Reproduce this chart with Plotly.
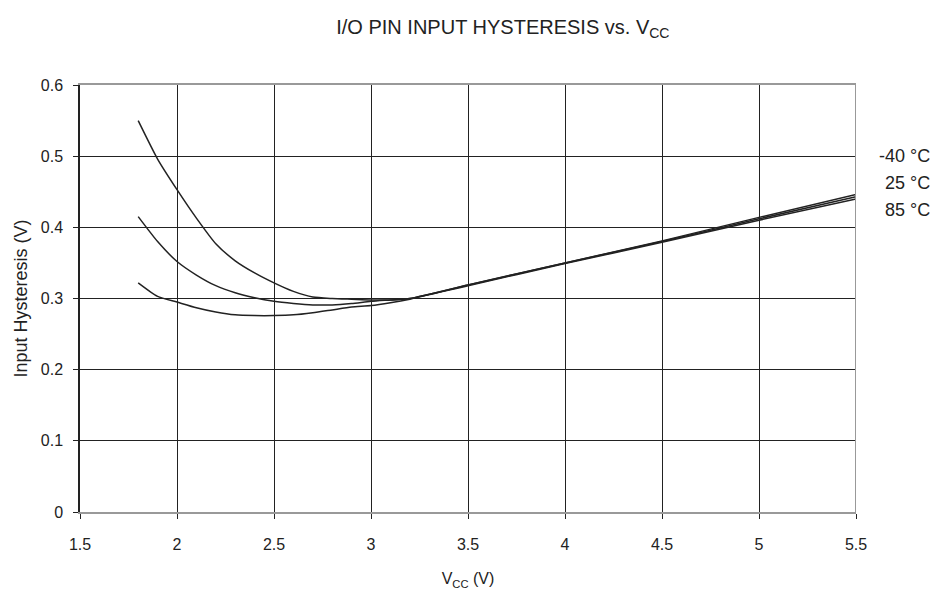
import plotly.graph_objects as go

# Supply voltage (V)
vcc = [1.8, 1.9, 2.0, 2.1, 2.2, 2.3, 2.4, 2.5, 2.6, 2.7, 2.8, 2.9, 3.0, 3.1, 3.2,
       3.5, 4.0, 4.5, 5.0, 5.5]

# Input hysteresis (V) per temperature
hyst_m40 = [0.550, 0.496, 0.453, 0.413, 0.377, 0.353, 0.336, 0.322, 0.310, 0.302,
            0.300, 0.299, 0.298, 0.298, 0.300, 0.319, 0.350, 0.381, 0.414, 0.446]
hyst_25 = [0.415, 0.380, 0.352, 0.333, 0.318, 0.308, 0.301, 0.296, 0.293, 0.291,
           0.291, 0.293, 0.296, 0.298, 0.300, 0.319, 0.350, 0.380, 0.412, 0.443]
hyst_85 = [0.322, 0.303, 0.295, 0.287, 0.281, 0.277, 0.276, 0.276, 0.277, 0.280,
           0.284, 0.288, 0.290, 0.294, 0.299, 0.318, 0.349, 0.379, 0.410, 0.440]

labels = ["-40 °C", "25 °C", "85 °C"]
series = [hyst_m40, hyst_25, hyst_85]
label_y = [0.5006, 0.4627, 0.4243]

FONT = "Liberation Sans, Arial, sans-serif"
INK = "#222222"

fig = go.Figure()
for name, ys in zip(labels, series):
    fig.add_trace(go.Scatter(
        x=vcc, y=ys, name=name, mode="lines",
        line=dict(color=INK, width=1.5, shape="spline", smoothing=0.6),
    ))

# temperature labels to the right of the plot
for name, yy in zip(labels, label_y):
    fig.add_annotation(
        x=1.098, y=yy, xref="paper", yref="y", text=name, showarrow=False,
        xanchor="right", yanchor="middle", font=dict(size=18, color=INK),
    )

# right border in grey
fig.add_shape(type="line", xref="x", yref="paper", x0=5.5, x1=5.5, y0=0, y1=1,
              line=dict(color="#999999", width=2))

# the page body adds an 8px offset, so margins are shifted to compensate
fig.update_layout(
    width=939, height=592,
    margin=dict(l=72, r=91, t=77, b=88, autoexpand=False),
    paper_bgcolor="white", plot_bgcolor="white",
    font=dict(family=FONT, size=16, color=INK),
    showlegend=False,
    title=dict(text="I/O PIN INPUT HYSTERESIS vs. V<sub>CC</sub>",
               x=0.527, xanchor="center", y=0.968, yanchor="middle",
               font=dict(size=20, color=INK)),
    xaxis=dict(
        range=[1.5, 5.5], dtick=0.5, tick0=1.5, automargin=False,
        showgrid=True, gridcolor=INK, gridwidth=1.3,
        showline=True, linecolor="#999999", linewidth=2, mirror=True,
        ticks="outside", ticklen=5, tickcolor=INK, ticklabelstandoff=12,
        zeroline=False,
        title=dict(text="V<sub>CC</sub> (V)", font=dict(size=16), standoff=21),
    ),
    yaxis=dict(
        range=[0, 0.6], dtick=0.1, tick0=0, automargin=False,
        showgrid=True, gridcolor=INK, gridwidth=1.3,
        showline=True, linecolor=INK, linewidth=1.5,
        ticks="outside", ticklen=5, tickcolor=INK, ticklabelstandoff=7,
        zeroline=False,
        title=dict(text="Input Hysteresis (V)", font=dict(size=18), standoff=8),
    ),
)

fig.write_html("out.html")
